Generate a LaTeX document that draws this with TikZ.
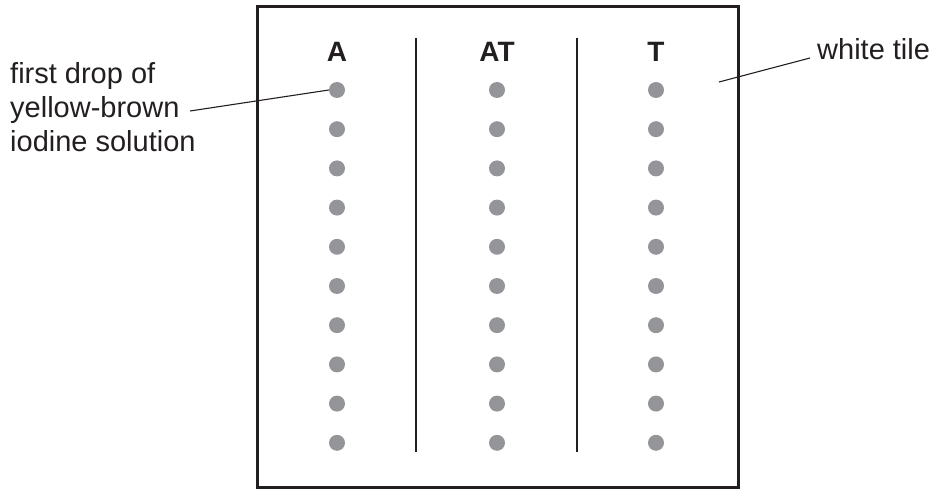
\documentclass[tikz,border=0pt]{standalone}
\usepackage{fontspec}
\setmainfont{Liberation Sans}
\definecolor{dotgray}{HTML}{939598}
\definecolor{ink}{HTML}{231F20}
\begin{document}
\begin{tikzpicture}[x=1pt,y=-1pt,
  dotstyle/.style={circle,fill=dotgray,inner sep=0pt,minimum size=16pt},
  head/.style={font=\fontsize{28}{30}\selectfont\bfseries,text=ink,inner sep=0pt},
  lbl/.style={font=\fontsize{29}{34}\selectfont,text=ink,inner sep=0pt,align=left},
  leader/.style={draw=ink,line width=1.1pt},
  divider/.style={draw=ink,line width=2pt}]
\useasboundingbox (0,0) rectangle (935,489);
\node[draw=ink,line width=2.6pt,minimum width=481pt,minimum height=481pt,anchor=north west,inner sep=0pt] (tile) at (256.3,5.3) {};
\coordinate (d1t) at (416,38); \coordinate (d1b) at (416,452);
\coordinate (d2t) at (577,38); \coordinate (d2b) at (577,452);
\draw[divider] (d1t) -- (d1b);
\draw[divider] (d2t) -- (d2b);
\node[head] (hA) at (337,52) {A};
\node[head] (hAT) at (497,52) {AT};
\node[head] (hT) at (656,52) {T};
\foreach \c/\x in {A/337,AT/497,T/656}{
  \foreach \i in {0,...,9}{
    \node[dotstyle] (\c\i) at (\x,{90+39.2*\i}) {};
  }
}
\node[lbl,anchor=base west] (drop) at (10,152) {first drop of\\yellow-brown\\iodine solution};
\coordinate (dropend) at (190,111);
\draw[leader] (dropend) -- (A0.west);
\node[lbl,anchor=base west] (white) at (817,60) {white tile};
\coordinate (wstart) at (719,82);
\coordinate (wend) at (810,58);
\draw[leader] (wstart) -- (wend);
\end{tikzpicture}
\end{document}
